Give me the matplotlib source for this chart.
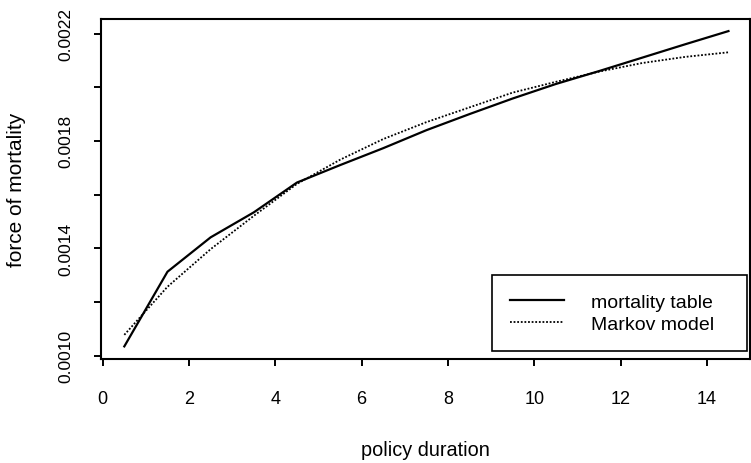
import matplotlib
matplotlib.use("Agg")
import matplotlib.pyplot as plt

#### Data ####
duration = [0.5, 1.5, 2.5, 3.5, 4.5, 5.5, 6.5, 7.5, 8.5, 9.5, 10.5, 11.5, 12.5, 13.5, 14.5]
mortality_table = [0.001035, 0.001313, 0.001441, 0.001534, 0.001645, 0.001710, 0.001773,
                   0.001840, 0.001900, 0.001958, 0.002012, 0.002060, 0.002110, 0.002160, 0.002209]
markov_model = [0.001078, 0.001257, 0.001397, 0.001521, 0.001640, 0.001730, 0.001807,
                0.001870, 0.001925, 0.001980, 0.002020, 0.002058, 0.002090, 0.002113, 0.002130]

x_ticks = [0, 2, 4, 6, 8, 10, 12, 14]
y_ticks = [0.0010, 0.0012, 0.0014, 0.0016, 0.0018, 0.0020, 0.0022]
y_labels = ["0.0010", "", "0.0014", "", "0.0018", "", "0.0022"]

#### Plot ####
plt.rcParams['font.family'] = ['Liberation Sans', 'DejaVu Sans']

fig = plt.figure(figsize=(7.51, 4.64), dpi=100)
ax = fig.add_axes([0.1345, 0.2241, 0.8642, 0.7328])

ax.plot(duration, mortality_table, color='black', lw=1.6, label='mortality table')
ax.plot(duration, markov_model, color='black', lw=1.3, linestyle=(0, (1, 1)), label='Markov model')

ax.set_xlim(-0.04, 15.0)
ax.set_ylim(0.000988, 0.002254)

ax.set_xticks(x_ticks)
ax.set_xticklabels([str(t) for t in x_ticks], fontsize=13)
ax.set_yticks(y_ticks)
ax.set_yticklabels(y_labels, fontsize=12.5, rotation=90, va='center')
ax.tick_params(axis='both', direction='out', length=5, width=1.4, color='black')
ax.tick_params(axis='x', pad=17)
ax.tick_params(axis='y', pad=15)

for s in ax.spines.values():
    s.set_linewidth(1.5)
    s.set_color('black')

ax.set_xlabel('policy duration', fontsize=14.3, labelpad=24)
ax.set_ylabel('force of mortality', fontsize=15, labelpad=23)

# legend box stretched to the width of the one in the picture
leg = ax.legend(loc='lower left', bbox_to_anchor=(0.602, 0.0235, 0.393, 0.25), mode='expand',
                borderaxespad=0, fontsize=14, frameon=True, fancybox=False, framealpha=1,
                edgecolor='black', borderpad=0.95, handlelength=2.75,
                handletextpad=1.4, labelspacing=0.2)
leg.get_frame().set_linewidth(1.2)

fig.savefig('out.png', dpi=100)
plt.close(fig)
